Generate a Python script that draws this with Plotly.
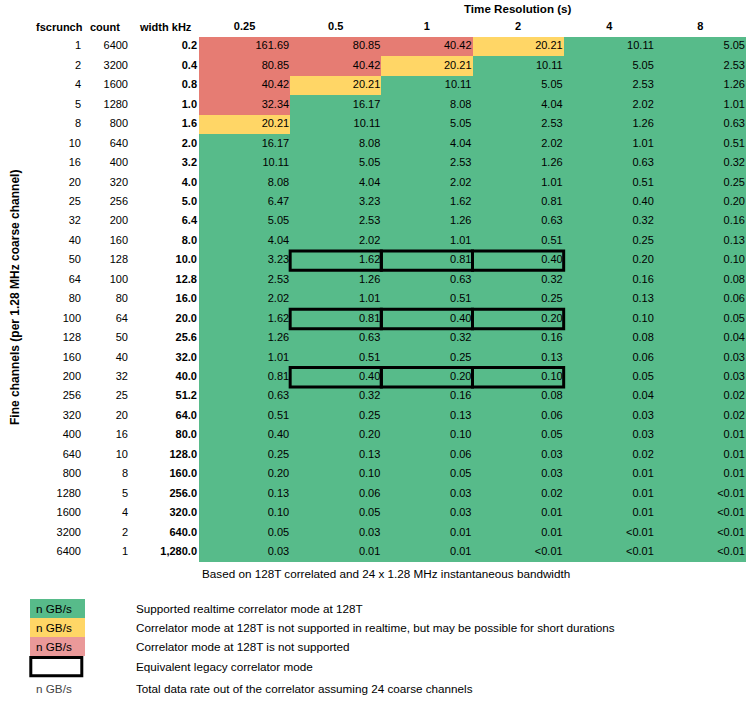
import plotly.graph_objects as go

W, H = 754, 702

# time resolutions (columns) and fine-channel settings (rows)
res_labels = ['0.25', '0.5', '1', '2', '4', '8']
fscrunch = [1, 2, 4, 5, 8, 10, 16, 20, 25, 32, 40, 50, 64, 80, 100, 128,
            160, 200, 256, 320, 400, 640, 800, 1280, 1600, 3200, 6400]
count = [6400, 3200, 1600, 1280, 800, 640, 400, 320, 256, 200, 160, 128, 100,
         80, 64, 50, 40, 32, 25, 20, 16, 10, 8, 5, 4, 2, 1]
width_khz = ['0.2', '0.4', '0.8', '1.0', '1.6', '2.0', '3.2', '4.0', '5.0',
             '6.4', '8.0', '10.0', '12.8', '16.0', '20.0', '25.6', '32.0',
             '40.0', '51.2', '64.0', '80.0', '128.0', '160.0', '256.0',
             '320.0', '640.0', '1,280.0']

# data rate out of the correlator, GB/s
rate_025 = ['161.69', '80.85', '40.42', '32.34', '20.21', '16.17', '10.11',
            '8.08', '6.47', '5.05', '4.04', '3.23', '2.53', '2.02', '1.62',
            '1.26', '1.01', '0.81', '0.63', '0.51', '0.40', '0.25', '0.20',
            '0.13', '0.10', '0.05', '0.03']
rate_05 = ['80.85', '40.42', '20.21', '16.17', '10.11', '8.08', '5.05', '4.04',
           '3.23', '2.53', '2.02', '1.62', '1.26', '1.01', '0.81', '0.63',
           '0.51', '0.40', '0.32', '0.25', '0.20', '0.13', '0.10', '0.06',
           '0.05', '0.03', '0.01']
rate_1 = ['40.42', '20.21', '10.11', '8.08', '5.05', '4.04', '2.53', '2.02',
          '1.62', '1.26', '1.01', '0.81', '0.63', '0.51', '0.40', '0.32',
          '0.25', '0.20', '0.16', '0.13', '0.10', '0.06', '0.05', '0.03',
          '0.03', '0.01', '0.01']
rate_2 = ['20.21', '10.11', '5.05', '4.04', '2.53', '2.02', '1.26', '1.01',
          '0.81', '0.63', '0.51', '0.40', '0.32', '0.25', '0.20', '0.16',
          '0.13', '0.10', '0.08', '0.06', '0.05', '0.03', '0.03', '0.02',
          '0.01', '0.01', '<0.01']
rate_4 = ['10.11', '5.05', '2.53', '2.02', '1.26', '1.01', '0.63', '0.51',
          '0.40', '0.32', '0.25', '0.20', '0.16', '0.13', '0.10', '0.08',
          '0.06', '0.05', '0.04', '0.03', '0.03', '0.02', '0.01', '0.01',
          '0.01', '<0.01', '<0.01']
rate_8 = ['5.05', '2.53', '1.26', '1.01', '0.63', '0.51', '0.32', '0.25',
          '0.20', '0.16', '0.13', '0.10', '0.08', '0.06', '0.05', '0.04',
          '0.03', '0.03', '0.02', '0.02', '0.01', '0.01', '0.01', '<0.01',
          '<0.01', '<0.01', '<0.01']
rates = [rate_025, rate_05, rate_1, rate_2, rate_4, rate_8]

# (fscrunch, time resolution) of the cells that are not plain green
red_cells = [(1, '0.25'), (1, '0.5'), (1, '1'), (2, '0.25'), (2, '0.5'),
             (4, '0.25'), (5, '0.25')]
yellow_cells = [(1, '2'), (2, '1'), (4, '0.5'), (8, '0.25')]
legacy_cells = [(50, '0.5'), (50, '1'), (50, '2'),
                (100, '0.5'), (100, '1'), (100, '2'),
                (200, '0.5'), (200, '1'), (200, '2')]

legend_text = ['Supported realtime correlator mode at 128T',
               'Correlator mode at 128T is not supported in realtime, but may be possible for short durations',
               'Correlator mode at 128T is not supported',
               'Equivalent legacy correlator mode',
               'Total data rate out of the correlator assuming 24 coarse channels']

GREEN = '#57BB8A'
YELLOW = '#FFD666'
RED = '#E67C73'
LEGEND_RED = '#EA9999'
FONT = 'Liberation Sans, Arial, sans-serif'
PROSE = 11.7   # size of the sentences; the numbers use 11

# grid geometry in screen pixels -> axis units (1 unit = 1 cell)
GRID_LEFT, COL_W = 199, 547 / 6
GRID_TOP, ROW_H = 37, 525 / 27


def px_x(p):
    return -0.5 + (p - GRID_LEFT) / COL_W


def px_y(q):
    return -0.5 + (q - GRID_TOP) / ROW_H


row_of = {f: i for i, f in enumerate(fscrunch)}
col_of = {r: j for j, r in enumerate(res_labels)}

z = [[0] * len(res_labels) for _ in fscrunch]
for f, r in yellow_cells:
    z[row_of[f]][col_of[r]] = 1
for f, r in red_cells:
    z[row_of[f]][col_of[r]] = 2

fig = go.Figure()

fig.add_trace(go.Heatmap(
    x=list(range(len(res_labels))), y=list(range(len(fscrunch))), z=z,
    zmin=0, zmax=2, showscale=False, hoverinfo='skip',
    colorscale=[[0, GREEN], [0.33, GREEN], [0.33, YELLOW], [0.67, YELLOW],
                [0.67, RED], [1, RED]]))

# cell values, right aligned in each cell
vx, vy, vt = [], [], []
for j, col in enumerate(rates):
    for i, v in enumerate(col):
        vx.append(j + 0.5 - 1 / COL_W)
        vy.append(i)
        vt.append(v)
fig.add_trace(go.Scatter(x=vx, y=vy, text=vt, mode='text',
                         textposition='middle left', cliponaxis=False,
                         textfont=dict(family=FONT, size=11, color='#000'),
                         hoverinfo='skip'))

# row header columns
rows = list(range(len(fscrunch)))
for right, vals, weight in [(81, fscrunch, 'normal'), (128, count, 'normal'),
                            (197, width_khz, 'bold')]:
    fig.add_trace(go.Scatter(
        x=[px_x(right)] * len(vals), y=rows, text=[str(v) for v in vals],
        mode='text', textposition='middle left', cliponaxis=False,
        textfont=dict(family=FONT, size=11, color='#000', weight=weight),
        hoverinfo='skip'))

# column headers
fig.add_trace(go.Scatter(
    x=list(range(len(res_labels))), y=[px_y(27)] * len(res_labels),
    text=res_labels, mode='text', textposition='middle center',
    cliponaxis=False, hoverinfo='skip',
    textfont=dict(family=FONT, size=11, color='#000', weight='bold')))

annotations = []
for label, left in [('fscrunch', 34), ('count', 88), ('width kHz', 137)]:
    annotations.append(dict(x=px_x(left), y=px_y(27), text=label,
                            xanchor='left', yanchor='middle', showarrow=False,
                            font=dict(family=FONT, size=11, color='#000',
                                      weight='bold')))
annotations.append(dict(x=col_of['2'], y=px_y(8), text='Time Resolution (s)',
                        xanchor='center', yanchor='middle', showarrow=False,
                        font=dict(family=FONT, size=11.6, color='#000',
                                  weight='bold')))
annotations.append(dict(x=px_x(15), y=px_y(298),
                        text='Fine channels (per 1.28 MHz coarse channel)',
                        textangle=-90, showarrow=False,
                        font=dict(family=FONT, size=12, color='#000',
                                  weight='bold')))
annotations.append(dict(x=px_x(200), y=px_y(573),
                        text='Based on 128T correlated and 24 x 1.28 MHz instantaneous bandwidth',
                        xanchor='left', yanchor='middle', showarrow=False,
                        font=dict(family=FONT, size=PROSE, color='#000')))

shapes = []
for f, r in legacy_cells:
    i, j = row_of[f], col_of[r]
    shapes.append(dict(type='rect', x0=j - 0.5, x1=j + 0.5, y0=i - 0.5,
                       y1=i + 0.5, line=dict(color='#000', width=3),
                       layer='above'))

# legend block
legend_fill = [GREEN, YELLOW, LEGEND_RED]
legend_top = 599
legend_step = 19
for k, col in enumerate(legend_fill):
    shapes.append(dict(type='rect', x0=px_x(30), x1=px_x(85),
                       y0=px_y(legend_top + k * legend_step),
                       y1=px_y(legend_top + (k + 1) * legend_step),
                       fillcolor=col, line=dict(width=0), layer='below'))
shapes.append(dict(type='rect', x0=px_x(30.8), x1=px_x(81.8),
                   y0=px_y(657.5), y1=px_y(675.8), fillcolor='white',
                   line=dict(color='#000', width=3)))

legend_y = [608.5, 627.5, 646.5, 666.5, 688]
for k, txt in enumerate(legend_text):
    annotations.append(dict(x=px_x(134), y=px_y(legend_y[k]), text=txt,
                            xanchor='left', yanchor='middle', showarrow=False,
                            font=dict(family=FONT, size=PROSE, color='#000')))
for k in [0, 1, 2, 4]:
    annotations.append(dict(x=px_x(34), y=px_y(legend_y[k]), text='n GB/s',
                            xanchor='left', yanchor='middle', showarrow=False,
                            font=dict(family=FONT, size=PROSE,
                                      color='#444' if k == 4 else '#000')))

fig.update_layout(
    width=W, height=H, autosize=False,
    margin=dict(l=0, r=0, t=0, b=0, pad=0),
    paper_bgcolor='white', plot_bgcolor='white',
    showlegend=False, hovermode=False,
    xaxis=dict(range=[px_x(0), px_x(W)], visible=False, fixedrange=True),
    yaxis=dict(range=[px_y(H), px_y(0)], visible=False, fixedrange=True),
    shapes=shapes, annotations=annotations)

# the page body has an 8px default margin; drop it so the figure sits at 0,0
fig.write_html('out.html', config={'displayModeBar': False},
               post_script="document.body.style.margin='0';")
